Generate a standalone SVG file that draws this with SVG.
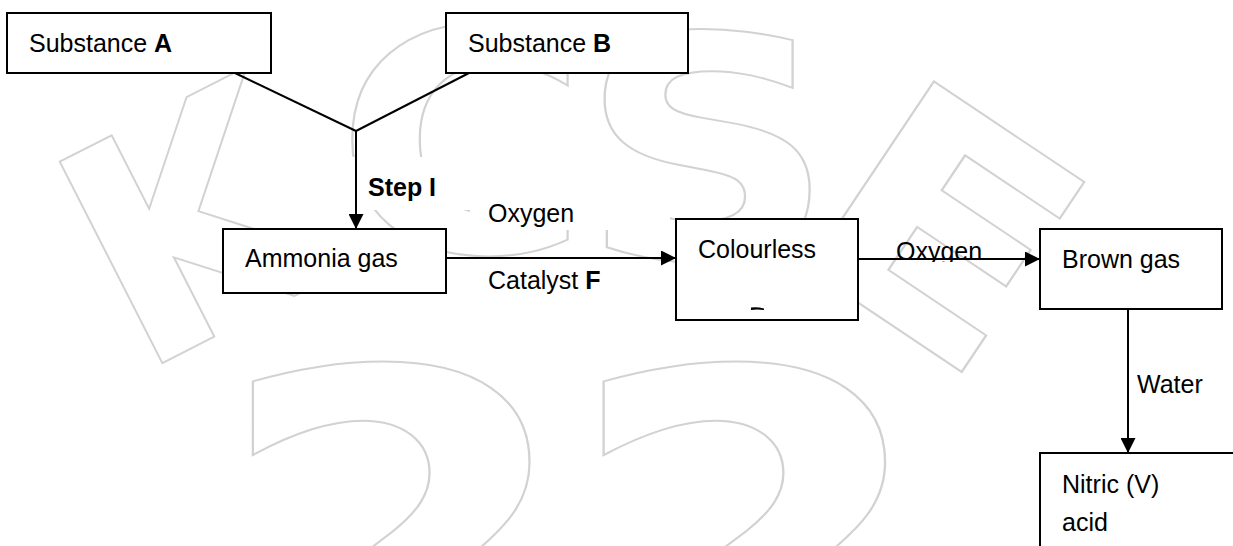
<svg xmlns="http://www.w3.org/2000/svg" width="1233" height="546" viewBox="0 0 1233 546">
<defs>
<style>
.wm{font-family:"DejaVu Sans",sans-serif;font-weight:bold;fill:none;stroke:#d2d2d2;stroke-width:2}
.box{fill:#fff;stroke:#000;stroke-width:2}
.bg{fill:#fff;stroke:none}
.t{font-family:"Liberation Sans",Arial,sans-serif;font-size:25px;fill:#000}
.b{font-weight:bold}
.ln{fill:none;stroke:#000;stroke-width:2}
</style>
<marker id="ah" markerWidth="16" markerHeight="15" refX="15" refY="7.5" orient="auto" markerUnits="userSpaceOnUse">
<path d="M0,0 L15,7.5 L0,15 Z" fill="#000"/>
</marker>
<clipPath id="oxclip"><rect x="880" y="230" width="120" height="32"/></clipPath>
</defs>
<rect width="1233" height="546" fill="#fff"/>
<g id="watermark">
<text class="wm" font-size="310" transform="translate(137,376) rotate(-27)">K</text>
<text class="wm" font-size="310" transform="translate(335,252) scale(1.12,1)">C</text>
<text class="wm" font-size="310" transform="translate(579,259) scale(1.15,1)">S</text>
<text class="wm" font-size="310" transform="translate(781,251) rotate(33.8) scale(1.15,1)">E</text>
<text class="wm" font-size="460" transform="translate(210,703) scale(1.15,1)">2</text>
<text class="wm" font-size="460" transform="translate(560,703) scale(1.17,1)">2</text>
</g>
<g id="label-bgs">
<rect class="bg" x="345" y="157" width="155" height="53"/>
<rect class="bg" x="470" y="183" width="200" height="47"/>
<rect class="bg" x="470" y="265" width="200" height="38"/>
<rect class="bg" x="1133" y="365" width="82" height="37"/>
</g>
<g id="node-a"><rect class="box" x="7" y="13" width="264" height="60"/><text class="t" x="29" y="52">Substance <tspan class="b">A</tspan></text></g>
<g id="node-b"><rect class="box" x="446" y="13" width="242" height="60"/><text class="t" x="468" y="52">Substance <tspan class="b">B</tspan></text></g>
<g id="node-ammonia"><rect class="box" x="223" y="229" width="223" height="64"/><text class="t" x="245" y="267">Ammonia gas</text></g>
<g id="node-colourless"><rect class="box" x="676" y="219" width="182" height="101"/><text class="t" x="698" y="258">Colourless</text><path d="M751,307.5 Q757,306.5 764,308.5 L764,310 Q757,309 751,310 Z" fill="#000"/></g>
<g id="node-brown"><rect class="box" x="1040" y="229" width="182" height="80"/><text class="t" x="1062" y="268">Brown gas</text></g>
<g id="node-nitric"><rect class="box" x="1040" y="453" width="220" height="120"/><text class="t" x="1062" y="493">Nitric (V)</text><text class="t" x="1062" y="531">acid</text></g>
<g id="labels">
<text class="t b" x="368" y="196">Step I</text>
<text class="t" x="488" y="222">Oxygen</text>
<text class="t" x="488" y="289">Catalyst <tspan class="b">F</tspan></text>
<text class="t" x="896" y="260" clip-path="url(#oxclip)">Oxygen</text>
<text class="t" x="1137" y="393">Water</text>
</g>
<g id="connectors">
<line class="ln" x1="235" y1="73" x2="356" y2="131"/>
<line class="ln" x1="469" y1="73" x2="356" y2="131"/>
<line class="ln" x1="356" y1="131" x2="356" y2="229" marker-end="url(#ah)"/>
<line class="ln" x1="446" y1="258" x2="676" y2="258" marker-end="url(#ah)"/>
<line class="ln" x1="858" y1="259" x2="1040" y2="259" marker-end="url(#ah)"/>
<line class="ln" x1="1128" y1="309" x2="1128" y2="453" marker-end="url(#ah)"/>
</g>
</svg>
